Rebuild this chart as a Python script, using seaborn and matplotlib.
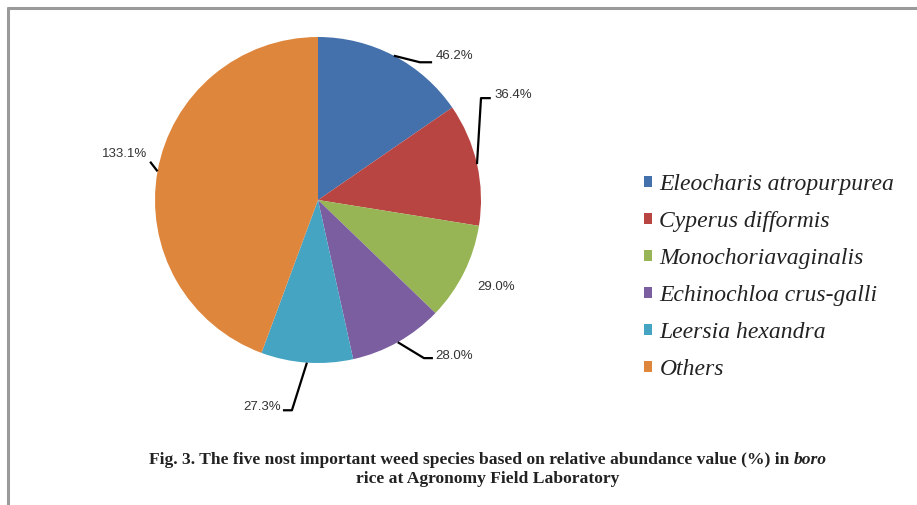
import numpy as np
import matplotlib
matplotlib.use("Agg")
import matplotlib.pyplot as plt
from matplotlib.lines import Line2D
import seaborn as sns

# ---- data ----
species = ["Eleocharis atropurpurea", "Cyperus difformis", "Monochoriavaginalis",
           "Echinochloa crus-galli", "Leersia hexandra", "Others"]
values = [46.2, 36.4, 29.0, 28.0, 27.3, 133.1]
value_labels = ["46.2%", "36.4%", "29.0%", "28.0%", "27.3%", "133.1%"]
caption_line1 = "Fig. 3. The five nost important weed species based on relative abundance value (%) in "
caption_italic = "boro"
caption_line2 = "rice at Agronomy Field Laboratory"

colors = sns.color_palette(["#4471AC", "#B84542", "#97B554", "#7B5E9F", "#45A4C2", "#DF863D"])

sns.set_style("white")
plt.rcParams["font.family"] = ["DejaVu Sans"]

W, H = 917, 505
fig = plt.figure(figsize=(W / 100, H / 100), dpi=100)
fig.patch.set_facecolor("white")

# pie axes: centre (318, 200) px, radius 163 px
cx, cy, r = 318, 200, 163
ax = fig.add_axes([(cx - r) / W, (H - cy - r) / H, 2 * r / W, 2 * r / H])
wedges, _ = ax.pie(values, colors=colors, startangle=90, counterclock=False,
                   wedgeprops=dict(linewidth=0))
ax.set_xlim(-1, 1)
ax.set_ylim(-1, 1)
ax.set_aspect("equal")
ax.axis("off")

# label layout: (text x, text y, ha, leader points after the edge point)
layout = [
    (0.72, 0.885, "left", [(0.625, 0.845), (0.70, 0.845)]),
    (1.08, 0.645, "left", [(1.0, 0.625), (1.06, 0.625)]),
    (0.98, -0.535, "left", None),
    (0.72, -0.955, "left", [(0.65, -0.97), (0.705, -0.97)]),
    (-0.23, -1.27, "right", [(-0.16, -1.29), (-0.215, -1.29)]),
    (-1.05, 0.285, "right", [(-1.03, 0.235)]),
]
lab_font = dict(family=["Liberation Sans", "DejaVu Sans"], size=9.5, color="#333333")
for w, txt, (tx, ty, ha, pts) in zip(wedges, value_labels, layout):
    mid = np.deg2rad((w.theta1 + w.theta2) / 2)
    ex, ey = np.cos(mid), np.sin(mid)
    if pts:
        xs = [ex] + [p[0] for p in pts]
        ys = [ey] + [p[1] for p in pts]
        ax.plot(xs, ys, color="black", lw=1.6, clip_on=False, solid_capstyle="butt")
    ax.text(tx, ty, txt, ha=ha, va="center", clip_on=False, **lab_font)

# legend
leg = fig.legend(wedges, species, loc="upper left",
                 bbox_to_anchor=(632 / W, 1 - 162 / H), frameon=False,
                 prop=dict(family="Liberation Serif", style="italic", size=17),
                 handlelength=0.36, handleheight=0.36, handletextpad=0.3,
                 labelspacing=0.68, borderpad=0)
for t in leg.get_texts():
    t.set_color("#222222")

# caption
cap_size = 12.6
cap_font = dict(family="Liberation Serif", weight="bold", size=cap_size, color="#222222")
t1 = fig.text(0.5, 1 - 460 / H, caption_line1, ha="left", va="center", **cap_font)
t_it = fig.text(0, 1 - 460 / H, caption_italic, ha="left", va="center",
                family="Liberation Serif", weight="bold", style="italic", size=cap_size, color="#222222")
fig.canvas.draw()
bb = t1.get_window_extent()
bbi = t_it.get_window_extent()
total = bb.width + bbi.width
centre = 488
start = centre - total / 2
t1.set_x(start / W)
t_it.set_x((start + bb.width) / W)
fig.text(centre / W, 1 - 479 / H, caption_line2, ha="center", va="center", **cap_font)

# frame lines (top and left)
fig.add_artist(Line2D([8 / W, 1], [1 - 8 / H, 1 - 8 / H], color="#9a9a9a", lw=2.2))
fig.add_artist(Line2D([8 / W, 8 / W], [0, 1 - 8 / H], color="#9a9a9a", lw=2.2))

fig.savefig("out.png", dpi=100, facecolor="white")
